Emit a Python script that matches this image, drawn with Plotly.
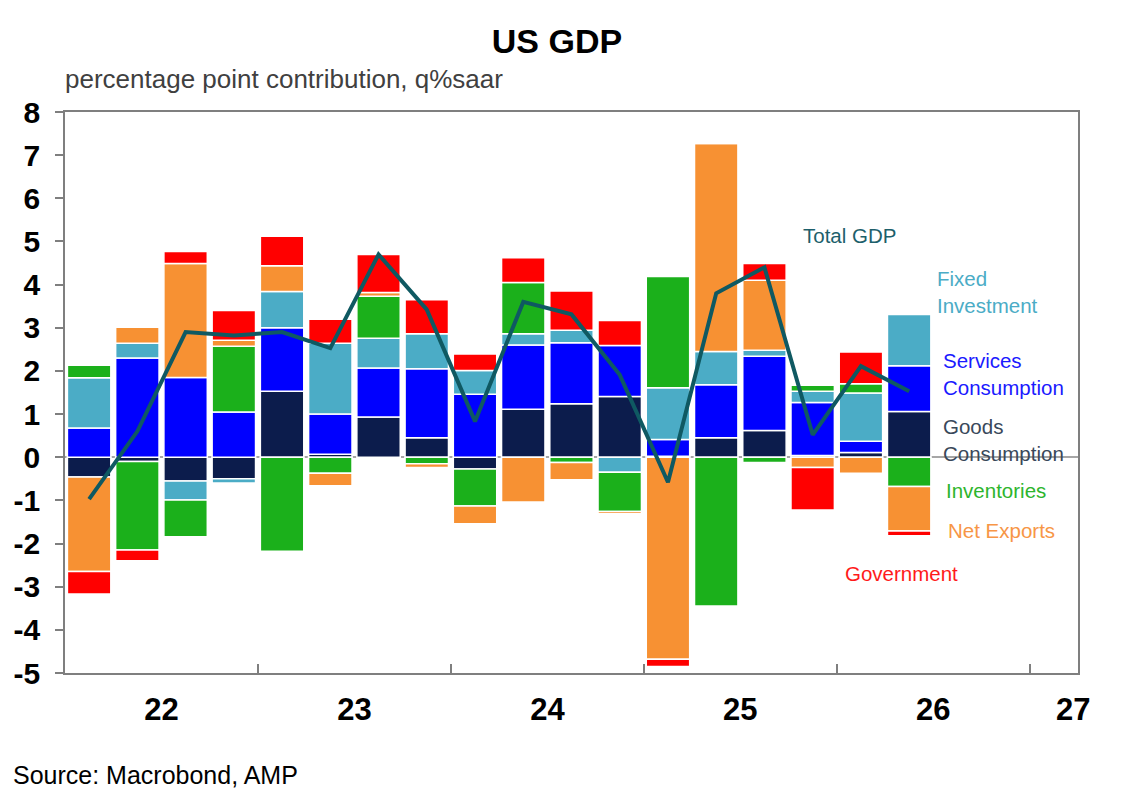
import numpy as np
import plotly.graph_objects as go

# ---------------- data ----------------
quarters = ["2022Q1", "2022Q2", "2022Q3", "2022Q4",
            "2023Q1", "2023Q2", "2023Q3", "2023Q4",
            "2024Q1", "2024Q2", "2024Q3", "2024Q4",
            "2025Q1", "2025Q2", "2025Q3", "2025Q4",
            "2026Q1", "2026Q2"]

goods = [-0.46, -0.10, -0.55, -0.50, 1.53, 0.07, 0.93, 0.45, -0.27,
         1.11, 1.24, 1.41, 0.02, 0.45, 0.62, 0.04, 0.11, 1.06]
services = [0.68, 2.30, 1.85, 1.05, 1.47, 0.93, 1.14, 1.60, 1.46,
            1.49, 1.41, 1.18, 0.39, 1.23, 1.72, 1.23, 0.26, 1.06]
fixed_inv = [1.16, 0.34, -0.44, -0.10, 0.84, 1.64, 0.69, 0.81, 0.55,
             0.26, 0.29, -0.35, 1.20, 0.77, 0.14, 0.26, 1.12, 1.19]
inventories = [0.29, -2.05, -0.85, 1.52, -2.18, -0.37, 0.97, -0.15, -0.86,
               1.19, -0.12, -0.91, 2.58, -3.45, -0.12, 0.14, 0.21, -0.68]
net_exports = [-2.19, 0.37, 2.64, 0.14, 0.60, -0.29, 0.09, -0.09, -0.41,
               -1.04, -0.40, -0.05, -4.68, 4.82, 1.62, -0.24, -0.37, -1.03]
government = [-0.52, -0.25, 0.28, 0.69, 0.68, 0.56, 0.88, 0.79, 0.38,
              0.57, 0.91, 0.58, -0.17, 0.00, 0.39, -0.98, 0.74, -0.11]
total_gdp = [-0.97, 0.60, 2.90, 2.82, 2.90, 2.53, 4.70, 3.42, 0.83,
             3.60, 3.31, 1.91, -0.58, 3.80, 4.40, 0.52, 2.11, 1.53]

year_labels = ["22", "23", "24", "25", "26", "27"]
y_ticks = list(range(-5, 9))
y_tick_labels = [str(v) for v in y_ticks]  # plain hyphen minus, as in the reference

# ---------------- positions on a quarterly numeric axis ----------------
first_year = 2022
xq = np.array([(int(q[:4]) - first_year) * 4 + int(q[-1]) - 1 for q in quarters]) + 0.5
year_label_pos = [2, 6, 10, 14, 18, 20.9]
year_bounds = [4, 8, 12, 16, 20]

FONT = "Liberation Sans"

series = [
    ("Goods Consumption", goods, "#0c1c4c"),
    ("Services Consumption", services, "#0000ff"),
    ("Fixed Investment", fixed_inv, "#4bacc6"),
    ("Inventories", inventories, "#1bb01b"),
    ("Net Exports", net_exports, "#f79133"),
    ("Government", government, "#ff0000"),
]

fig = go.Figure()
for name, vals, col in series:
    fig.add_trace(go.Bar(
        x=xq, y=vals, name=name, width=0.9,
        marker=dict(color=col, line=dict(color="white", width=1.5)),
    ))

fig.add_trace(go.Scatter(
    x=xq, y=total_gdp, mode="lines", name="Total GDP",
    line=dict(color="#0f5962", width=4),
))

# ---------------- layout (page has an 8px body margin) ----------------
OFF = 8
W, H = 1121 - 2 * OFF, 808 - 2 * OFF
L = 65 - OFF
T = 112 - OFF
R = W - (1078 - OFF)
B = H - (673 - OFF)
pw, ph = W - L - R, H - T - B


def px(xpix):
    return (xpix - OFF - L) / pw


def py(ypix):
    return (H - B - (ypix - OFF)) / ph


fig.update_layout(
    width=W, height=H,
    margin=dict(l=L, r=R, t=T, b=B, autoexpand=False),
    barmode="relative",
    showlegend=False,
    plot_bgcolor="white",
    paper_bgcolor="white",
    font=dict(family=FONT, color="black"),
    title=dict(text="US GDP", x=(557 - OFF) / W, xanchor="center", xref="container",
               y=1 - (41 - OFF) / H, yanchor="middle", yref="container",
               font=dict(family=FONT, size=34, weight="bold", color="black")),
)

fig.update_xaxes(
    range=[0, 21],
    tickvals=year_label_pos, ticktext=year_labels,
    ticks="", showgrid=False, zeroline=False,
    showline=True, linecolor="#7f7f7f", linewidth=1.5, mirror=True,
    tickfont=dict(family=FONT, size=31, weight="bold", color="black"),
    ticklabelstandoff=8,
    minor=dict(tickvals=year_bounds, ticks="inside", ticklen=9,
               tickcolor="#7f7f7f", tickwidth=1.5, showgrid=False),
)

fig.update_yaxes(
    range=[-5, 8], tickvals=y_ticks, ticktext=y_tick_labels,
    ticks="outside", ticklen=8, tickcolor="#7f7f7f", tickwidth=1.5,
    showgrid=False,
    zeroline=True, zerolinecolor="#a6a6a6", zerolinewidth=1.5,
    showline=True, linecolor="#7f7f7f", linewidth=1.5, mirror=True,
    tickfont=dict(family=FONT, size=30, weight="bold", color="black"),
    ticklabelstandoff=9,
)

annots = [
    ("percentage point contribution, q%saar", 63, 79, "#404040", 26),
    ("Total GDP", 801, 235, "#1d5f6b", 20.5),
    ("Fixed<br>Investment", 935, 292, "#4bacc6", 20.5),
    ("Services<br>Consumption", 941, 374, "#1a1aff", 20.5),
    ("Goods<br>Consumption", 941, 440, "#39485a", 20.5),
    ("Inventories", 944, 490, "#2db52d", 20.5),
    ("Net Exports", 946, 530, "#f79646", 20.5),
    ("Government", 843, 573, "#ff1a1a", 20.5),
    ("Source: Macrobond, AMP", 11, 775, "black", 25),
]
for text, xp, yp, col, size in annots:
    fig.add_annotation(
        text=text, x=px(xp), y=py(yp), xref="paper", yref="paper",
        xanchor="left", yanchor="middle", align="left", showarrow=False,
        font=dict(family=FONT, size=size, color=col),
    )

fig.write_html("out.html")
